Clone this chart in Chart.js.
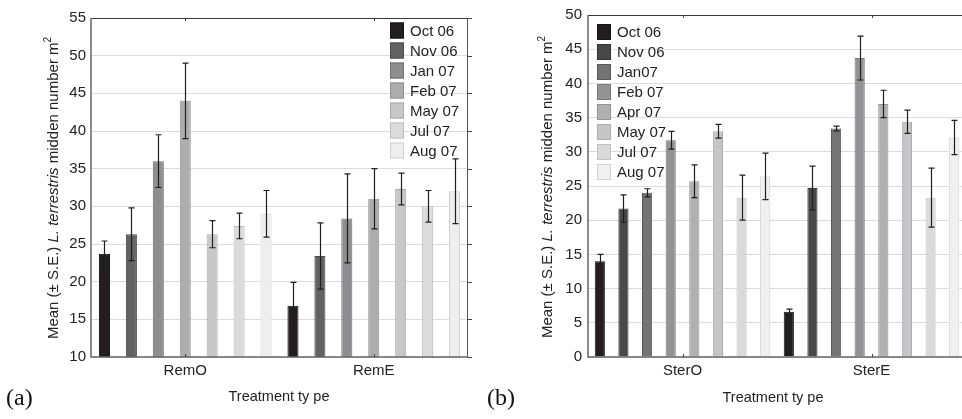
<!DOCTYPE html>
<html>
<head>
<meta charset="utf-8">
<script src="https://cdn.jsdelivr.net/npm/chart.js@4.4.1/dist/chart.umd.min.js"></script>
<style>
  body { margin: 0; background: #fff; }
  #wrap { position: relative; width: 962px; height: 419px; overflow: hidden; }
  canvas { position: absolute; top: 0; }
  #chartA { left: 0; width: 480px; height: 419px; }
  #chartB { left: 480px; width: 490px; height: 419px; }
</style>
</head>
<body>
<div id="wrap">
  <canvas id="chartA" width="480" height="419"></canvas>
  <canvas id="chartB" width="490" height="419"></canvas>
</div>
<script>
// (a) removal plots
const remGroups = ['RemO', 'RemE'];
const remMonths = ['Oct 06', 'Nov 06', 'Jan 07', 'Feb 07', 'May 07', 'Jul 07', 'Aug 07'];
const remO = [23.7, 26.3, 36.0, 44.0, 26.3, 27.4, 29.0];
const remOSE = [1.7, 3.5, 3.5, 5.0, 1.8, 1.7, 3.1];
const remE = [16.8, 23.4, 28.4, 31.0, 32.3, 30.0, 32.0];
const remESE = [3.1, 4.4, 5.9, 4.0, 2.1, 2.1, 4.3];
const remFill = ['#231f20', '#626264', '#8e8e90', '#adadaf', '#c8c8ca', '#dbdbdd', '#eeeef0'];
const remLine = ['#151515', '#4a4a4c', '#707072', '#909092', '#aaaaac', '#bdbdbf', '#d0d0d2'];

// (b) sterilised plots
const sterGroups = ['SterO', 'SterE'];
const sterMonths = ['Oct 06', 'Nov 06', 'Jan07', 'Feb 07', 'Apr 07', 'May 07', 'Jul 07', 'Aug 07'];
const sterO = [14.0, 21.7, 24.0, 31.7, 25.7, 33.0, 23.3, 26.4];
const sterOSE = [1.0, 2.0, 0.6, 1.3, 2.4, 1.0, 3.3, 3.4];
const sterE = [6.6, 24.7, 33.4, 43.7, 37.0, 34.4, 23.3, 32.1];
const sterESE = [0.4, 3.2, 0.35, 3.2, 2.0, 1.7, 4.3, 2.5];
const sterFill = ['#231f20', '#48484a', '#747476', '#939395', '#b0b0b2', '#c6c6c8', '#dadadc', '#f0f0f2'];
const sterLine = ['#151515', '#333335', '#5a5a5c', '#767678', '#949496', '#acacae', '#c2c2c4', '#d4d4d6'];

const FONT = '"Liberation Sans", Arial, sans-serif';
const INK = '#222';

function buildSets(months, a, aSE, b, bSE, fill, line) {
  return months.map((m, i) => ({
    label: m,
    data: [a[i], b[i]],
    errors: [aSE[i], bSE[i]],
    backgroundColor: fill[i],
    borderColor: line[i],
    borderWidth: 1
  }));
}

// error bars, frame, legend and titles
function decor(opt) {
  return {
    id: 'decor',
    afterDatasetsDraw(chart) {
      const ctx = chart.ctx, ys = chart.scales.y;
      ctx.save();
      ctx.strokeStyle = '#1f1f1f';
      ctx.lineWidth = 1.2;
      chart.data.datasets.forEach((ds, d) => {
        chart.getDatasetMeta(d).data.forEach((bar, i) => {
          const v = ds.data[i], e = ds.errors[i];
          const y1 = ys.getPixelForValue(v + e), y2 = ys.getPixelForValue(v - e);
          const x = Math.round(bar.x) + 0.5;
          ctx.beginPath();
          ctx.moveTo(x, y1); ctx.lineTo(x, y2);
          ctx.moveTo(x - 3, y1); ctx.lineTo(x + 3, y1);
          ctx.moveTo(x - 3, y2); ctx.lineTo(x + 3, y2);
          ctx.stroke();
        });
      });
      ctx.restore();
    },
    afterDraw(chart) {
      const ctx = chart.ctx, a = chart.chartArea, xs = chart.scales.x, ys = chart.scales.y;
      ctx.save();
      // frame
      ctx.lineWidth = 1;
      ctx.strokeStyle = '#3a3a3a';
      ctx.beginPath(); ctx.moveTo(a.left, a.top + 0.5); ctx.lineTo(a.right, a.top + 0.5); ctx.stroke();
      ctx.strokeStyle = '#555';
      ctx.beginPath(); ctx.moveTo(a.right - 0.5, a.top); ctx.lineTo(a.right - 0.5, a.bottom); ctx.stroke();
      ctx.lineWidth = 1.5;
      ctx.strokeStyle = '#666';
      ctx.beginPath();
      ctx.moveTo(a.left, a.top); ctx.lineTo(a.left, a.bottom); ctx.lineTo(a.right, a.bottom);
      ctx.stroke();
      // small inward ticks at category centres
      ctx.lineWidth = 1;
      ctx.strokeStyle = '#444';
      xs.ticks.forEach((t, i) => {
        const x = Math.round(xs.getPixelForValue(i)) + 0.5;
        ctx.beginPath();
        ctx.moveTo(x, a.bottom); ctx.lineTo(x, a.bottom - 3);
        ctx.moveTo(x, a.top); ctx.lineTo(x, a.top + 3);
        ctx.stroke();
      });
      if (opt.rightTicks) {
        ys.ticks.forEach(t => {
          const y = Math.round(ys.getPixelForValue(t.value)) + 0.5;
          ctx.beginPath(); ctx.moveTo(a.right, y); ctx.lineTo(a.right + 4, y); ctx.stroke();
        });
      }
      // legend
      const L = opt.legend;
      ctx.font = '15px ' + FONT;
      ctx.textBaseline = 'middle';
      ctx.textAlign = 'left';
      chart.data.datasets.forEach((ds, i) => {
        const cy = L.y + i * 20;
        ctx.fillStyle = ds.backgroundColor;
        ctx.fillRect(L.x, cy - 8, 14, 16);
        ctx.strokeStyle = ds.borderColor;
        ctx.lineWidth = 1;
        ctx.strokeRect(L.x + 0.5, cy - 7.5, 13, 15);
        ctx.fillStyle = INK;
        ctx.fillText(ds.label, L.textX, cy + 1);
      });
      // y title with italic species name and superscript
      const segs = [
        ['Mean (\u00b1 S.E.) ', '15px ' + FONT, 0],
        ['L. terrestris', 'italic 15px ' + FONT, 0],
        [' midden number m', '15px ' + FONT, 0],
        ['2', '10px ' + FONT, -6]
      ];
      let total = 0;
      segs.forEach(s => { ctx.font = s[1]; total += ctx.measureText(s[0]).width; });
      ctx.translate(opt.yTitle.x, opt.yTitle.y);
      ctx.rotate(-Math.PI / 2);
      let px = -total / 2;
      ctx.fillStyle = INK;
      segs.forEach(s => {
        ctx.font = s[1];
        ctx.fillText(s[0], px, s[2]);
        px += ctx.measureText(s[0]).width;
      });
      ctx.setTransform(1, 0, 0, 1, 0, 0);
      // x title
      ctx.font = '14.5px ' + FONT;
      ctx.textAlign = 'center';
      ctx.fillText('Treatment ty pe', opt.xTitle.x, opt.xTitle.y);
      // panel tag
      ctx.font = '24px "Liberation Serif", "Times New Roman", serif';
      ctx.textAlign = 'left';
      ctx.fillStyle = '#111';
      ctx.fillText(opt.tag.text, opt.tag.x, opt.tag.y);
      ctx.restore();
    }
  };
}

function makeChart(id, groups, sets, yMin, yMax, yWidth, pad, barPct, opt) {
  return new Chart(document.getElementById(id), {
    type: 'bar',
    data: { labels: groups, datasets: sets },
    options: {
      responsive: false,
      animation: false,
      layout: { padding: pad },
      plugins: { legend: { display: false }, tooltip: { enabled: false } },
      datasets: { bar: { categoryPercentage: 1.0, barPercentage: barPct } },
      scales: {
        x: {
          grid: { display: false },
          border: { display: false },
          ticks: { font: { family: FONT, size: 15 }, color: INK, padding: -3 },
          afterFit: s => { s.height = 62; s.paddingLeft = 0; s.paddingRight = 0; }
        },
        y: {
          min: yMin,
          max: yMax,
          grid: { color: '#dcdcdc', drawTicks: false },
          border: { display: false },
          ticks: { stepSize: 5, font: { family: FONT, size: 15 }, color: INK, padding: opt.tickPad },
          afterFit: s => { s.width = yWidth; s.paddingTop = 0; s.paddingBottom = 0; }
        }
      }
    },
    plugins: [decor(opt)]
  });
}

makeChart('chartA', remGroups,
  buildSets(remMonths, remO, remOSE, remE, remESE, remFill, remLine),
  10, 55, 91, { left: 0, right: 12, top: 18, bottom: 0 }, 0.41, {
    tickPad: 5,
    rightTicks: true,
    legend: { x: 390, y: 30.5, textX: 410 },
    yTitle: { x: 54, y: 188 },
    xTitle: { x: 279, y: 397 },
    tag: { text: '(a)', x: 6, y: 399 }
  });

// plot area of (b) runs past the right edge of the picture, as in the original
makeChart('chartB', sterGroups,
  buildSets(sterMonths, sterO, sterOSE, sterE, sterESE, sterFill, sterLine),
  0, 50, 108, { left: 0, right: 4, top: 15, bottom: 0 }, 0.43, {
    tickPad: 6,
    rightTicks: false,
    legend: { x: 117, y: 32, textX: 137 },
    yTitle: { x: 68, y: 187 },
    xTitle: { x: 293, y: 398 },
    tag: { text: '(b)', x: 7, y: 399 }
  });
</script>
</body>
</html>
